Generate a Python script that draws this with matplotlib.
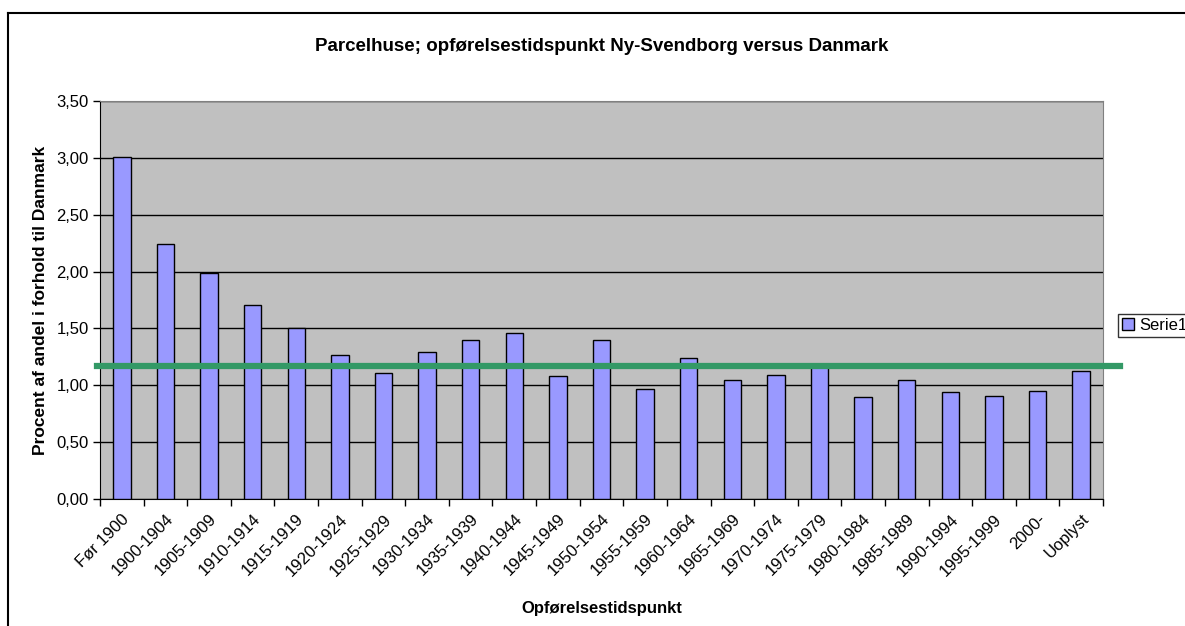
import matplotlib
matplotlib.use("Agg")
import matplotlib.pyplot as plt
from matplotlib.ticker import FuncFormatter, FixedLocator
from matplotlib.lines import Line2D

categories = ["Før 1900", "1900-1904", "1905-1909", "1910-1914", "1915-1919",
              "1920-1924", "1925-1929", "1930-1934", "1935-1939", "1940-1944",
              "1945-1949", "1950-1954", "1955-1959", "1960-1964", "1965-1969",
              "1970-1974", "1975-1979", "1980-1984", "1985-1989", "1990-1994",
              "1995-1999", "2000-", "Uoplyst"]
serie1 = [3.01, 2.24, 1.99, 1.71, 1.50, 1.27, 1.11, 1.29, 1.40, 1.46,
          1.08, 1.40, 0.97, 1.24, 1.05, 1.09, 1.19, 0.90, 1.05, 0.94,
          0.91, 0.95, 1.13]
reference_level = 1.17

plt.rcParams["font.family"] = ["Liberation Sans", "DejaVu Sans"]

fig = plt.figure(figsize=(11.85, 6.26), dpi=100)
W, H = 1185, 626
ax = fig.add_axes([100 / W, 1 - 499 / H, (1103 - 100) / W, (499 - 101) / H])
ax.set_facecolor("#c0c0c0")

n = len(categories)
x = list(range(n))
ax.bar(x, serie1, width=0.4, color="#9999ff", edgecolor="black",
       linewidth=1.0, label="Serie1", zorder=3)

ax.set_xlim(-0.5, n - 0.5)
ax.set_ylim(0, 3.5)
ax.set_yticks([i * 0.5 for i in range(8)])
ax.yaxis.set_major_formatter(FuncFormatter(lambda v, p: f"{v:.2f}".replace(".", ",")))
ax.yaxis.grid(True, color="black", linewidth=1.0, zorder=1)
ax.set_axisbelow(True)

ax.set_xticks(x)
ax.set_xticklabels(categories, rotation=45, ha="right", rotation_mode="anchor",
                   fontsize=12)
ax.tick_params(axis="x", length=0, pad=9)
ax.xaxis.set_minor_locator(FixedLocator([i - 0.5 for i in range(n + 1)]))
ax.tick_params(axis="x", which="minor", length=5, width=1, color="black")
ax.tick_params(axis="y", length=5, width=1, labelsize=12, pad=3)

for side in ["top", "right"]:
    ax.spines[side].set_color("#808080")
for side in ["left", "bottom"]:
    ax.spines[side].set_color("black")

# green reference line, extends slightly beyond the plot area
ax.plot([-0.57, n - 0.5 + 0.4], [reference_level, reference_level],
        color="#339966", linewidth=4.5, zorder=4, clip_on=False)

ax.set_title("Parcelhuse; opførelsestidspunkt Ny-Svendborg versus Danmark",
             fontsize=13.5, fontweight="bold", pad=36)
ax.set_ylabel("Procent af andel i forhold til Danmark", fontsize=12.5,
              fontweight="bold", labelpad=6)
ax.set_xlabel("Opførelsestidspunkt", fontsize=12, fontweight="bold", labelpad=16)

leg = fig.legend(loc="upper left", bbox_to_anchor=(1118 / W, 1 - 314 / H),
                 fontsize=12, frameon=True, fancybox=False, handlelength=0.7,
                 handleheight=0.7, handletextpad=0.3, borderpad=0.25,
                 borderaxespad=0)
leg.get_frame().set_edgecolor("black")
leg.get_frame().set_linewidth(1.0)

# outer chart frame (cut off at right and bottom)
fig.add_artist(Line2D([8 / W, 8 / W], [1 - 13 / H, -0.1], color="black",
                      linewidth=1.5, transform=fig.transFigure))
fig.add_artist(Line2D([8 / W, 1.1], [1 - 13 / H, 1 - 13 / H], color="black",
                      linewidth=1.5, transform=fig.transFigure))

fig.savefig("out.png", dpi=100)
